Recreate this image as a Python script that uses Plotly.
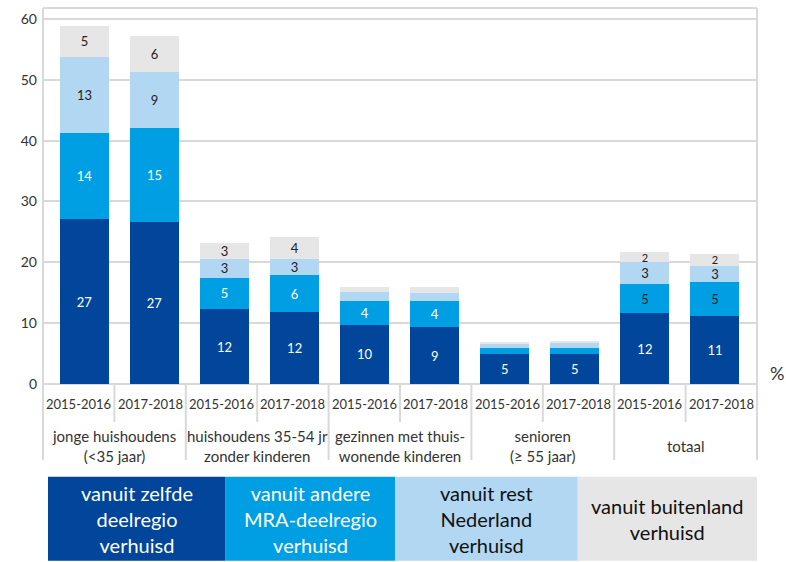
import plotly.graph_objects as go

# ---- data ----
years = ["2015-2016", "2017-2018"] * 5
groups = ["jonge huishoudens<br>(<35 jaar)", "huishoudens 35-54 jr<br>zonder kinderen",
          "gezinnen met thuis-<br>wonende kinderen", "senioren<br>(≥ 55 jaar)", "totaal"]
series_names = ["vanuit zelfde<br>deelregio<br>verhuisd",
                "vanuit andere<br>MRA-deelregio<br>verhuisd",
                "vanuit rest<br>Nederland<br>verhuisd",
                "vanuit buitenland<br>verhuisd"]

zelfde = [27.1, 26.6, 12.3, 11.8, 9.7, 9.3, 4.9, 4.9, 11.6, 11.2]
andere_mra = [14.1, 15.5, 5.2, 6.1, 3.9, 4.4, 1.0, 1.1, 4.8, 5.5]
rest_nl = [12.6, 9.2, 3.0, 2.6, 1.5, 1.2, 0.7, 0.7, 3.6, 2.7]
buitenland = [5.1, 5.9, 2.6, 3.6, 0.8, 1.0, 0.35, 0.4, 1.7, 2.0]

lbl_zelfde = ["27", "27", "12", "12", "10", "9", "5", "5", "12", "11"]
lbl_andere = ["14", "15", "5", "6", "4", "4", "", "", "5", "5"]
lbl_rest = ["13", "9", "3", "3", "", "", "", "", "3", "3"]
lbl_buiten = ["5", "6", "3", "4", "", "", "", "", "2", "2"]

colors = ["#01469a", "#009fe3", "#b2d7f3", "#e6e6e6"]
text_colors = [
    ["white"] * 10,
    ["white"] * 8 + ["#222222"] * 2,
    ["#222222"] * 10,
    ["#222222"] * 10,
]
text_sizes = [
    [13] * 10,
    [13] * 10,
    [13] * 10,
    [13] * 8 + [11] * 2,
]

FONT = "Lato"
x = list(range(len(years)))
n = len(years)

fig = go.Figure()
for vals, lbls, name, col, tcol, tsz in zip(
        [zelfde, andere_mra, rest_nl, buitenland],
        [lbl_zelfde, lbl_andere, lbl_rest, lbl_buiten],
        series_names, colors, text_colors, text_sizes):
    fig.add_trace(go.Bar(
        x=x, y=vals, name=name, marker=dict(color=col, line=dict(width=0)),
        width=0.7, text=lbls, textposition="inside", insidetextanchor="middle",
        textangle=0, constraintext="none",
        textfont=dict(family=FONT, size=tsz, color=tcol),
        hoverinfo="skip", showlegend=False,
    ))

grid = "#d9d9d9"
fig.update_layout(
    width=786, height=562, barmode="stack",
    margin=dict(l=43, r=29, t=8, b=178),
    plot_bgcolor="white", paper_bgcolor="white",
    font=dict(family=FONT, color="#333333"),
    xaxis=dict(range=[-0.592, 9.6], showticklabels=False, showgrid=False,
               zeroline=False, showline=False, ticks=""),
    yaxis=dict(range=[0, 61.8], tickvals=[0, 10, 20, 30, 40, 50, 60],
               tickfont=dict(size=14, color="#333333"), showgrid=True,
               gridcolor=grid, gridwidth=2, zeroline=True, zerolinecolor=grid,
               zerolinewidth=2, showline=False, ticks="", ticklabelstandoff=5),
)

shapes = []
annotations = []
# frame
shapes.append(dict(type="line", xref="paper", yref="paper", x0=0, x1=1, y0=1, y1=1,
                   line=dict(color=grid, width=2)))
for xp in [0, 1]:
    shapes.append(dict(type="line", xref="paper", yref="paper", x0=xp, x1=xp, y0=1, y1=-0.202,
                       line=dict(color=grid, width=2)))
# separators between label slots
for i in range(n - 1):
    bottom = -0.101 if i % 2 == 0 else -0.202
    xp = (i + 1) / n
    shapes.append(dict(type="line", xref="paper", yref="paper", x0=xp, x1=xp,
                       y0=0, y1=bottom, line=dict(color=grid, width=2)))
# year labels
for i, yr in enumerate(years):
    annotations.append(dict(xref="paper", yref="paper", x=(i + 0.5) / n, y=-0.053,
                            text=yr, showarrow=False,
                            font=dict(family=FONT, size=13, color="#333333"),
                            xanchor="center", yanchor="middle"))
# group labels
for g, name in enumerate(groups):
    annotations.append(dict(xref="paper", yref="paper", x=(2 * g + 1) / n, y=-0.164,
                            text=name, showarrow=False,
                            font=dict(family=FONT, size=15, color="#333333"),
                            xanchor="center", yanchor="middle"))

# custom legend boxes
box_edges = [0.007, 0.255, 0.493, 0.749, 1.0]
for k in range(4):
    shapes.append(dict(type="rect", xref="paper", yref="paper",
                       x0=box_edges[k], x1=box_edges[k + 1], y0=-0.247, y1=-0.470,
                       fillcolor=colors[k], line=dict(width=0), layer="below"))
    annotations.append(dict(xref="paper", yref="paper",
                            x=(box_edges[k] + box_edges[k + 1]) / 2, y=-0.3585,
                            text=series_names[k], showarrow=False,
                            font=dict(family=FONT, size=20,
                                      color="white" if k < 2 else "#111111"),
                            xanchor="center", yanchor="middle"))

# percent sign
annotations.append(dict(xref="paper", yref="paper", x=1.028, y=0.029, text="%",
                        showarrow=False, font=dict(family=FONT, size=18, color="#333333"),
                        xanchor="center", yanchor="middle"))

fig.update_layout(shapes=shapes, annotations=annotations)
fig.write_html("out.html", config={"displayModeBar": False},
               post_script="document.body.style.margin='0';")
